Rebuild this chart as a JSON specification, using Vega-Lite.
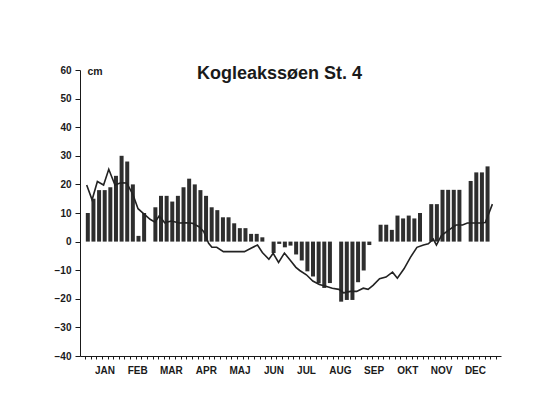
{
  "$schema": "https://vega.github.io/schema/vega-lite/v6.json",
  "width": 421,
  "height": 286,
  "autosize": {"type": "none"},
  "padding": {"left": 80, "top": 70, "right": 43, "bottom": 52},
  "background": "white",
  "title": {
    "text": "Kogleakssøen St. 4",
    "font": "Liberation Sans",
    "fontSize": 18,
    "fontWeight": "bold",
    "color": "#1a1a1a",
    "anchor": "middle",
    "offset": -18,
    "dx": -11
  },
  "config": {
    "view": {"stroke": null},
    "axis": {
      "labelFont": "Liberation Sans",
      "labelFontWeight": "bold",
      "labelFontSize": 10,
      "labelColor": "#1a1a1a",
      "domainColor": "#1a1a1a",
      "tickColor": "#1a1a1a",
      "grid": false,
      "labelOverlap": false
    }
  },
  "datasets": {
    "bars": [
      {"day": 2.5, "cm": 10}, {"day": 7.5, "cm": 15}, {"day": 12.5, "cm": 18}, {"day": 17.5, "cm": 18},
      {"day": 22.5, "cm": 19}, {"day": 27.5, "cm": 23}, {"day": 32.5, "cm": 30}, {"day": 37.5, "cm": 28},
      {"day": 42.5, "cm": 20}, {"day": 47.5, "cm": 2}, {"day": 52.5, "cm": 10},
      {"day": 62.5, "cm": 12}, {"day": 67.5, "cm": 16}, {"day": 72.5, "cm": 16}, {"day": 77.5, "cm": 14},
      {"day": 82.5, "cm": 16}, {"day": 87.5, "cm": 19}, {"day": 92.5, "cm": 22}, {"day": 97.5, "cm": 20},
      {"day": 102.5, "cm": 18}, {"day": 107.5, "cm": 16}, {"day": 112.5, "cm": 12}, {"day": 117.5, "cm": 11},
      {"day": 122.5, "cm": 8.5}, {"day": 127.5, "cm": 8.5}, {"day": 132.5, "cm": 6.4}, {"day": 137.5, "cm": 4.7},
      {"day": 142.5, "cm": 4.7}, {"day": 147.5, "cm": 2.7}, {"day": 152.5, "cm": 2.7}, {"day": 157.5, "cm": 1.5},
      {"day": 167.5, "cm": -4}, {"day": 172.5, "cm": -0.8}, {"day": 177.5, "cm": -2}, {"day": 182.5, "cm": -1.4},
      {"day": 187.5, "cm": -4.5}, {"day": 192.5, "cm": -6.6}, {"day": 197.5, "cm": -10.4}, {"day": 202.5, "cm": -12.2},
      {"day": 207.5, "cm": -14.6}, {"day": 212.5, "cm": -16.2}, {"day": 217.5, "cm": -14.5},
      {"day": 227.5, "cm": -21}, {"day": 232.5, "cm": -20.4}, {"day": 237.5, "cm": -20.4}, {"day": 242.5, "cm": -14.2},
      {"day": 247.5, "cm": -10.1}, {"day": 252.5, "cm": -1.2},
      {"day": 262.5, "cm": 5.9}, {"day": 267.5, "cm": 5.9}, {"day": 272.5, "cm": 4.1}, {"day": 277.5, "cm": 9.1},
      {"day": 282.5, "cm": 8.1}, {"day": 287.5, "cm": 9.1}, {"day": 292.5, "cm": 8.1}, {"day": 297.5, "cm": 10},
      {"day": 307.5, "cm": 13.1}, {"day": 312.5, "cm": 13.1}, {"day": 317.5, "cm": 18.1}, {"day": 322.5, "cm": 18.1},
      {"day": 327.5, "cm": 18.1}, {"day": 332.5, "cm": 18.1},
      {"day": 342.5, "cm": 21.2}, {"day": 347.5, "cm": 24.2}, {"day": 352.5, "cm": 24.2}, {"day": 357.5, "cm": 26.3}
    ],
    "line": [
      {"day": 1.5, "cm": 19.8}, {"day": 6.3, "cm": 14.6}, {"day": 11, "cm": 21}, {"day": 16.5, "cm": 19.8},
      {"day": 21.1, "cm": 25.3}, {"day": 26.6, "cm": 19.8}, {"day": 31.8, "cm": 20.6}, {"day": 37, "cm": 20.5},
      {"day": 42.5, "cm": 16.5}, {"day": 47.1, "cm": 11.5}, {"day": 52, "cm": 9.8}, {"day": 57.8, "cm": 7.8},
      {"day": 62.2, "cm": 6.8}, {"day": 65.9, "cm": 9}, {"day": 70.8, "cm": 6.6}, {"day": 76.6, "cm": 7.2},
      {"day": 83.8, "cm": 6.5}, {"day": 89.6, "cm": 6.6}, {"day": 95.4, "cm": 6.4}, {"day": 101.2, "cm": 5.2},
      {"day": 105.5, "cm": 3.5}, {"day": 109.8, "cm": -0.6}, {"day": 112.7, "cm": -2}, {"day": 117, "cm": -2},
      {"day": 122.9, "cm": -3.5}, {"day": 130.1, "cm": -3.5}, {"day": 141.6, "cm": -3.5}, {"day": 147.4, "cm": -2.3},
      {"day": 153.2, "cm": -1.2}, {"day": 157.5, "cm": -3.8}, {"day": 163.3, "cm": -6.2}, {"day": 167.1, "cm": -4.1},
      {"day": 171.9, "cm": -7.3}, {"day": 177.1, "cm": -4}, {"day": 182.1, "cm": -6.4}, {"day": 187.3, "cm": -9},
      {"day": 190.7, "cm": -10.1}, {"day": 196.6, "cm": -11.6}, {"day": 202.3, "cm": -13.8}, {"day": 208.1, "cm": -15},
      {"day": 213.9, "cm": -15.6}, {"day": 219.6, "cm": -16.3}, {"day": 225.4, "cm": -16.7}, {"day": 229.8, "cm": -17.9},
      {"day": 235.6, "cm": -17.4}, {"day": 241.3, "cm": -17.4}, {"day": 247.1, "cm": -16.3}, {"day": 251.4, "cm": -16.7},
      {"day": 255.8, "cm": -15.3}, {"day": 261.6, "cm": -13}, {"day": 267.3, "cm": -12.4}, {"day": 273.1, "cm": -10.7},
      {"day": 277.4, "cm": -12.8}, {"day": 283.3, "cm": -9.5}, {"day": 289, "cm": -5.5}, {"day": 294.8, "cm": -2},
      {"day": 300.6, "cm": -1.2}, {"day": 304.9, "cm": -0.8}, {"day": 309.3, "cm": 0.9}, {"day": 312.1, "cm": -1.2},
      {"day": 316.5, "cm": 2.1}, {"day": 323.6, "cm": 4.2}, {"day": 329.5, "cm": 5.8}, {"day": 335.3, "cm": 5.8},
      {"day": 339.6, "cm": 6.5}, {"day": 345.3, "cm": 6.5}, {"day": 351.1, "cm": 6.5}, {"day": 355.5, "cm": 6.7},
      {"day": 361.8, "cm": 13.1}
    ],
    "zero": [{}]
  },
  "data": {"name": "bars"},
  "encoding": {
    "x": {
      "field": "day", "type": "quantitative",
      "scale": {"domain": [0, 365], "nice": false, "zero": false},
      "axis": {
        "title": null,
        "values": [0,5,10,15,17.3,20,25,30,35,40,45,46.3,50,55,60,65,70,75,76.3,80,85,90,95,100,105,107.3,110,115,120,125,130,135,137.3,140,145,150,155,160,165,167.3,170,175,180,185,190,195,196.3,200,205,210,215,220,225,226.3,230,235,240,245,250,255,256.3,260,265,270,275,280,285,286.3,290,295,300,305,310,315,316.3,320,325,330,335,340,345,346.3,350,355,360,365],
        "labelExpr": "datum.value % 5 == 0 ? '' : ['JAN','FEB','MAR','APR','MAJ','JUN','JUL','AUG','SEP','OKT','NOV','DEC'][floor(datum.value / 30.42)]",
        "labelOverlap": false,
        "labelFlush": false,
        "labelBound": false,
        "tickSize": 3,
        "tickOpacity": {"condition": {"test": "datum.value % 5 == 0", "value": 1}, "value": 0},
        "labelPadding": 6
      }
    },
    "y": {
      "field": "cm", "type": "quantitative",
      "scale": {"domain": [-40, 60], "nice": false},
      "axis": {
        "title": "cm",
        "titleAngle": 0,
        "titleAlign": "left",
        "titleBaseline": "middle",
        "titleX": 7,
        "titleY": 1,
        "titleFont": "Liberation Sans",
        "titleFontWeight": "bold",
        "titleFontSize": 10.5,
        "titleColor": "#1a1a1a",
        "values": [-40, -30, -20, -10, 0, 10, 20, 30, 40, 50, 60],
        "labelOverlap": false,
        "tickSize": 5,
        "labelPadding": 4
      }
    }
  },
  "layer": [
    {
      "mark": {"type": "bar", "size": 4, "color": "#2e2e2e"}
    },
    {
      "data": {"name": "line"},
      "mark": {"type": "line", "color": "#222222", "strokeWidth": 1.6}
    },
    {
      "data": {"name": "zero"},
      "mark": {"type": "rule", "color": "#1a1a1a", "strokeWidth": 1},
      "encoding": {"x": {"datum": 0}, "x2": {"datum": 365}, "y": {"datum": 0}}
    }
  ]
}
